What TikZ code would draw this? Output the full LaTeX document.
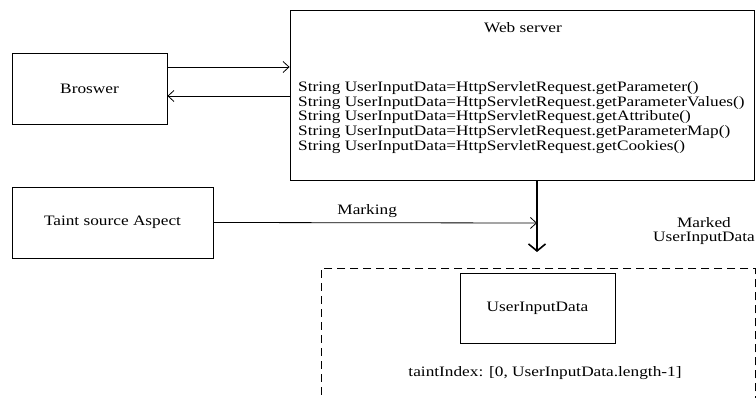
\documentclass[tikz,border=0pt]{standalone}
\usepackage{fontspec}
\setmainfont{Liberation Serif}[FakeStretch=1.2]
\usetikzlibrary{positioning,arrows.meta}

\tikzset{
  box/.style={draw, line width=0.8pt, minimum width=#1, inner sep=0pt},
  flow/.style={line width=0.8pt, -{Straight Barb[length=6pt,width=11pt]}},
}

\begin{document}
\begin{tikzpicture}[x=1pt, y=-1pt, font=\fontsize{14.4}{14.9}\selectfont]
\useasboundingbox (0,0) rectangle (756,398);
% boxes
\node[box=155pt, minimum height=71pt] (browser) at (89.5,88.5) {Broswer};
\node[box=464pt, minimum height=170pt] (server) at (522,95) {};
\node[box=201pt, minimum height=71pt] (taint) at (112.5,222.5) {Taint source Aspect};
\node[draw, line width=0.8pt, dash pattern=on 8pt off 5pt,
      minimum width=434pt, minimum height=170pt, anchor=north west] (marked) at (321,268) {};
\node[box=155pt, minimum height=70pt] (uid) at (537.5,308) {UserInputData};
% texts
\node (title) at (523,28) {Web server};
\node[anchor=north west, align=left, inner sep=0pt] (calls) at (298,81)
  {String UserInputData=HttpServletRequest.getParameter()\\
   String UserInputData=HttpServletRequest.getParameterValues()\\
   String UserInputData=HttpServletRequest.getAttribute()\\
   String UserInputData=HttpServletRequest.getParameterMap()\\
   String UserInputData=HttpServletRequest.getCookies()};
\node (idx) at (545,373) {taintIndex: [0, UserInputData.length-1]};
\node[align=center] (mlabel) at (704,231) {Marked\\UserInputData};
% connectors
\coordinate (hit) at (537,223);
\draw[flow] ([yshift=21.5pt]browser.east) -- ([yshift=21.5pt]browser.east -| server.west);
\draw[flow] ([yshift=-7.5pt]browser.east -| server.west) -- ([yshift=-7.5pt]browser.east);
\draw[flow] (taint.east) -- node[above=1pt, xshift=-8pt] {Marking} (hit);
\draw[line width=1.6pt, -{Straight Barb[length=7pt,width=17pt]}] (hit |- server.south) -- ([yshift=16pt]hit |- marked.north);
\end{tikzpicture}
\end{document}
